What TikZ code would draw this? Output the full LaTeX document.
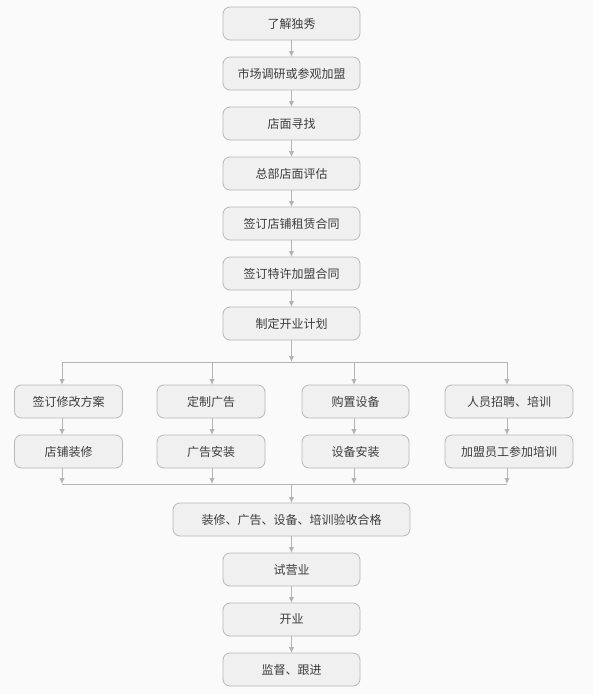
\documentclass[tikz,border=0pt]{standalone}
\usepackage{fontspec}
\setmainfont{Noto Sans CJK SC}
\usepackage{xcolor}
\usepackage{tikz}
\usetikzlibrary{positioning, arrows.meta}
\definecolor{pagebg}{HTML}{FAFAFA}
\definecolor{boxfill}{HTML}{F0F0F0}
\definecolor{boxline}{HTML}{B8B8B8}
\definecolor{linegray}{HTML}{B4B4B4}
\definecolor{textgray}{HTML}{3C3C3C}

\begin{document}
\begin{tikzpicture}[
    x = 1pt, y = -1pt, > = {Latex[length = 6pt, width = 5.5pt]},
    stage/.style = {
      rectangle, rounded corners = 7pt, draw = boxline, fill = boxfill,
      line width = 0.8pt, text = textgray, inner sep = 0pt, outer sep = 0pt,
      minimum width = 137pt, minimum height = 33pt,
      font = \fontsize{12pt}{14pt}\selectfont
    },
    branch/.style = {
      stage, minimum width = #1
    },
    flow/.style = {
      ->, draw = linegray, line width = 1pt
    },
    link/.style = {
      draw = linegray, line width = 1pt
    },
    ]

    % page
    \fill [pagebg] (0, 0) rectangle (593, 694);
    \useasboundingbox (0, 0) rectangle (593, 694);

    % draw main column
    \node  [stage]  (s1)  at (291.5, 23.5)  {了解独秀};
    \foreach \i/\txt [remember = \i as \lasti (initially 1)] in
      {2/市场调研或参观加盟, 3/店面寻找, 4/总部店面评估, 5/签订店铺租赁合同,
       6/签订特许加盟合同, 7/制定开业计划}
    \node  [stage]  (s\i)  [below = 17pt of s\lasti]  {\txt};

    % draw branches
    \foreach \i/\x/\w/\k/\top/\bot in
      {1/68.5/108/62/签订修改方案/店铺装修,
       2/211/108/212/定制广告/广告安装,
       3/355.5/107/354/购置设备/设备安装,
       4/509/128/507/人员招聘、培训/加盟员工参加培训}
    {
      \node  [branch = \w pt]  (b\i)  at (\x, 401.5)  {\top};
      \node  [branch = \w pt]  (c\i)  [below = 17pt of b\i]  {\bot};
      \coordinate  (k\i)  at (\k, 362);
      \coordinate  (j\i)  at (\k, 484);
    }

    % draw final column
    \node  [stage, minimum width = 237pt]  (m1)  at (291.5, 519.5)
      {装修、广告、设备、培训验收合格};
    \foreach \i/\txt [remember = \i as \lasti (initially 1)] in
      {2/试营业, 3/开业, 4/监督、跟进}
    \node  [stage]  (m\i)  [below = 17pt of m\lasti]  {\txt};

    % draw paths
    \foreach \i [remember = \i as \lasti (initially 1)] in {2, ..., 7}
    \draw  [flow]  (s\lasti)  to  (s\i);

    \coordinate  (split)  at (291.5, 362);
    \coordinate  (join)  at (291.5, 484);
    \draw  [flow]  (s7)  to  (split);
    \draw  [link]  (k1)  --  (k4);
    \draw  [link]  (j1)  --  (j4);
    \foreach \i in {1, ..., 4}
    {
      \draw  [flow]  (k\i)  to  (k\i |- b\i.north);
      \draw  [flow]  (k\i |- b\i.south)  to  (k\i |- c\i.north);
      \draw  [flow]  (k\i |- c\i.south)  to  (j\i);
    }
    \draw  [flow]  (join)  to  (m1);

    \foreach \i [remember = \i as \lasti (initially 1)] in {2, ..., 4}
    \draw  [flow]  (m\lasti)  to  (m\i);

\end{tikzpicture}
\end{document}
